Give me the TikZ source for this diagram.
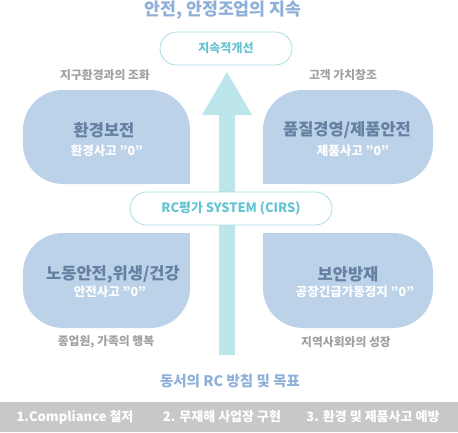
\documentclass[tikz,border=0pt]{standalone}
\usepackage{fontspec}
\setmainfont{Noto Sans CJK KR}
\definecolor{titlec}{RGB}{142,176,216}
\definecolor{blobc}{RGB}{188,210,232}
\definecolor{headc}{RGB}{100,128,163}
\definecolor{grayc}{RGB}{160,160,160}
\definecolor{pillb}{RGB}{168,220,228}
\definecolor{pillt}{RGB}{100,196,210}
\definecolor{arrowc}{RGB}{188,230,236}
\definecolor{barc}{RGB}{200,200,200}
\tikzset{
  blob/.style={fill=blobc},
  pill/.style={draw=pillb, fill=white, line width=0.8pt, rounded corners=16.5pt,
    minimum height=33pt, inner sep=0pt, text=pillt},
  heading/.style={text=headc, inner sep=0pt, font=\bfseries\fontsize{16.5}{16.5}\selectfont},
  sub/.style={text=white, inner sep=0pt, font=\bfseries\fontsize{12.5}{12.5}\selectfont},
  glabel/.style={text=grayc, inner sep=0pt, font=\bfseries\fontsize{11.8}{11.8}\selectfont},
  bartext/.style={text=white, inner sep=0pt, font=\bfseries\fontsize{13}{13}\selectfont},
}
\begin{document}
\begin{tikzpicture}[x=1pt,y=-1pt]
\useasboundingbox (0,0) rectangle (458,432);
% title
\node[text=titlec, inner sep=0pt, font=\bfseries\fontsize{17.3}{17.3}\selectfont] (title) at (223,10) {안전, 안정조업의 지속};
% arrow
\fill[arrowc] (219,355) -- (219,115) -- (202,115) -- (227,72) -- (252,115) -- (235,115) -- (235,355) -- cycle;
% blobs
\fill[blob, rounded corners=40pt] (23,90) rectangle (190,184);
\fill[blob] (140,134) rectangle (190,184);
\fill[blob, rounded corners=40pt] (263,90) rectangle (433,184);
\fill[blob] (263,134) rectangle (313,184);
\fill[blob, rounded corners=40pt] (23,233) rectangle (190,328);
\fill[blob] (140,233) rectangle (190,283);
\fill[blob, rounded corners=40pt] (263,233) rectangle (433,328);
\fill[blob] (263,233) rectangle (313,283);
% pills
\node[pill, minimum width=132pt, font=\bfseries\fontsize{12}{12}\selectfont] (improve) at (226,48.5) {지속적개선};
\node[pill, minimum width=202pt, font=\bfseries\fontsize{12.9}{12.9}\selectfont] (rc) at (231,208.5) {RC평가 SYSTEM (CIRS)};
% gray labels
\node[glabel] (l1) at (105,75) {지구환경과의 조화};
\node[glabel] (l2) at (343,75) {고객 가치창조};
\node[glabel] (l3) at (106,342) {종업원, 가족의 행복};
\node[glabel] (l4) at (346,342) {지역사회와의 성장};
% headings
\node[heading] (h1) at (104,130) {환경보전};
\node[sub] (s1) at (107,151) {환경사고 "0"};
\node[heading] (h2) at (347,130) {품질경영/제품안전};
\node[sub] (s2) at (353,151) {제품사고 "0"};
\node[heading] (h3) at (113,274) {노동안전,위생/건강};
\node[sub] (s3) at (110,292) {안전사고 "0"};
\node[heading] (h4) at (348,274) {보안방재};
\node[sub] (s4) at (355,292) {공장긴급가동정지 "0"};
% footer
\node[text=titlec, inner sep=0pt, font=\bfseries\fontsize{14.5}{14.5}\selectfont] (policy) at (230,381) {동서의 RC 방침 및 목표};
\fill[barc] (0,402) rectangle (458,432);
\node[bartext] (b1) at (75,417) {1.Compliance 철저};
\node[bartext] (b2) at (222,417) {2. 무재해 사업장 구현};
\node[bartext] (b3) at (373,417) {3. 환경 및 제품사고 예방};
\end{tikzpicture}
\end{document}
